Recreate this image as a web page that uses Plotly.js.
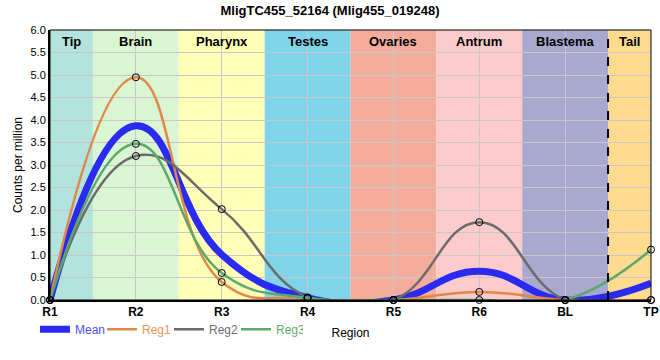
<!DOCTYPE html>
<html><head><meta charset="utf-8">
<script src="https://cdn.plot.ly/plotly-3.0.1.min.js"></script>
<style>body{margin:0;padding:0;background:#fff}#chart{width:660px;height:360px}</style>
</head><body><div id="chart"></div>
<script>
const categories = ["R1","R2","R3","R4","R5","R6","BL","TP"];
const reg1 = [0, 4.95, 0.40, 0.04, 0, 0.18, 0, 0];
const reg2 = [0, 3.20, 2.02, 0.06, 0, 1.73, 0, 0];
const reg3 = [0, 3.47, 0.60, 0.05, 0, 0.00, 0, 1.12];
const meanVals = [0, 3.87, 1.01, 0.05, 0, 0.64, 0, 0.37];
const bandLabels = ["Tip","Brain","Pharynx","Testes","Ovaries","Antrum","Blastema","Tail"];
const bandColors = ["#b3e3dd","#d9f5d2","#ffffb8","#7fd4ea","#f4ac9c","#fdcbcb","#a9a8cf","#fedb8e"];
const bandStart = [0, 0.5, 1.5, 2.5, 3.5, 4.5, 5.5, 6.5];
const bandEnd   = [0.5, 1.5, 2.5, 3.5, 4.5, 5.5, 6.5, 7];

const xIdx = categories.map((c,i)=>i);
const SM = 1.3;
function regLine(name, y, color, textColor){
  return {x:xIdx, y:y, type:'scatter', mode:'lines', cliponaxis:false,
    name:'<span style="color:'+textColor+'">'+name+'</span>',
    line:{color:color, width:2.5, shape:'spline', smoothing:SM}};
}
function regMarkers(y){
  return {x:xIdx, y:y, type:'scatter', mode:'markers', cliponaxis:false, showlegend:false, hoverinfo:'skip',
    marker:{symbol:'circle', size:7, color:'rgba(255,255,255,0)', line:{color:'#000', width:1}}};
}
const traces = [
  {x:xIdx, y:meanVals, type:'scatter', mode:'lines', cliponaxis:false,
   name:'<span style="color:#5050ff">Mean</span>',
   line:{color:'#2a2af0', width:7, shape:'spline', smoothing:SM}},
  regLine('Reg1', reg1, '#e0884a', '#e8965c'),
  regLine('Reg2', reg2, '#6b6b6b', '#707070'),
  regLine('Reg3', reg3, '#5aa86a', '#5fae70'),
  regMarkers(reg1), regMarkers(reg2), regMarkers(reg3)
];

const shapes = bandLabels.map((b,i)=>({type:'rect', xref:'x', yref:'paper', x0:bandStart[i], x1:bandEnd[i], y0:0, y1:1,
  fillcolor:bandColors[i], line:{width:0}, layer:'below'}));
shapes.push({type:'line', xref:'x', yref:'paper', x0:6.5, x1:6.5, y0:0, y1:1, line:{color:'#000', width:2, dash:'dash'}});
shapes.push({type:'rect', xref:'paper', yref:'paper', x0:0, x1:1, y0:0, y1:1, line:{color:'#000', width:1}, fillcolor:'rgba(0,0,0,0)'});
const annotations = bandLabels.map((b,i)=>({xref:'x', yref:'paper', x:(bandStart[i]+bandEnd[i])/2, y:1, yanchor:'top', yshift:-2,
  text:'<b>'+b+'</b>', showarrow:false, font:{size:13, color:'#000', family:'Liberation Sans, Arial, sans-serif'}}));

const layout = {
  width:660, height:360,
  margin:{l:50, r:9, t:30, b:60},
  paper_bgcolor:'#fff', plot_bgcolor:'#fff',
  font:{family:'Liberation Sans, Arial, sans-serif', color:'#000'},
  title:{text:'<b>MligTC455_52164 (Mlig455_019248)</b>', x:0.5, xanchor:'center', y:0.985, yanchor:'top', font:{size:13}},
  xaxis:{range:[0,7], tickvals:xIdx, ticktext:categories.map(c=>'<b>'+c+'</b>'), tickfont:{size:12},
    showgrid:true, gridcolor:'#c8c8c8', gridwidth:1, zeroline:false, showline:true, linecolor:'#000', linewidth:2,
    ticks:'', title:{text:'Region', font:{size:12}, standoff:10}},
  yaxis:{range:[0,6], dtick:0.5, tickformat:'.1f', tickfont:{size:11},
    showgrid:true, gridcolor:'#c8c8c8', gridwidth:1, zeroline:false, showline:true, linecolor:'#000', linewidth:2,
    ticks:'', title:{text:'Counts per million', font:{size:12}, standoff:5}},
  showlegend:true,
  legend:{orientation:'h', x:-0.025, xanchor:'left', y:-0.055, yanchor:'top', font:{size:12}, itemwidth:30,
    entrywidth:22, tracegroupgap:0, bgcolor:'rgba(0,0,0,0)'},
  shapes:shapes, annotations:annotations
};
Plotly.newPlot('chart', traces, layout, {displayModeBar:false, staticPlot:true});
</script></body></html>
